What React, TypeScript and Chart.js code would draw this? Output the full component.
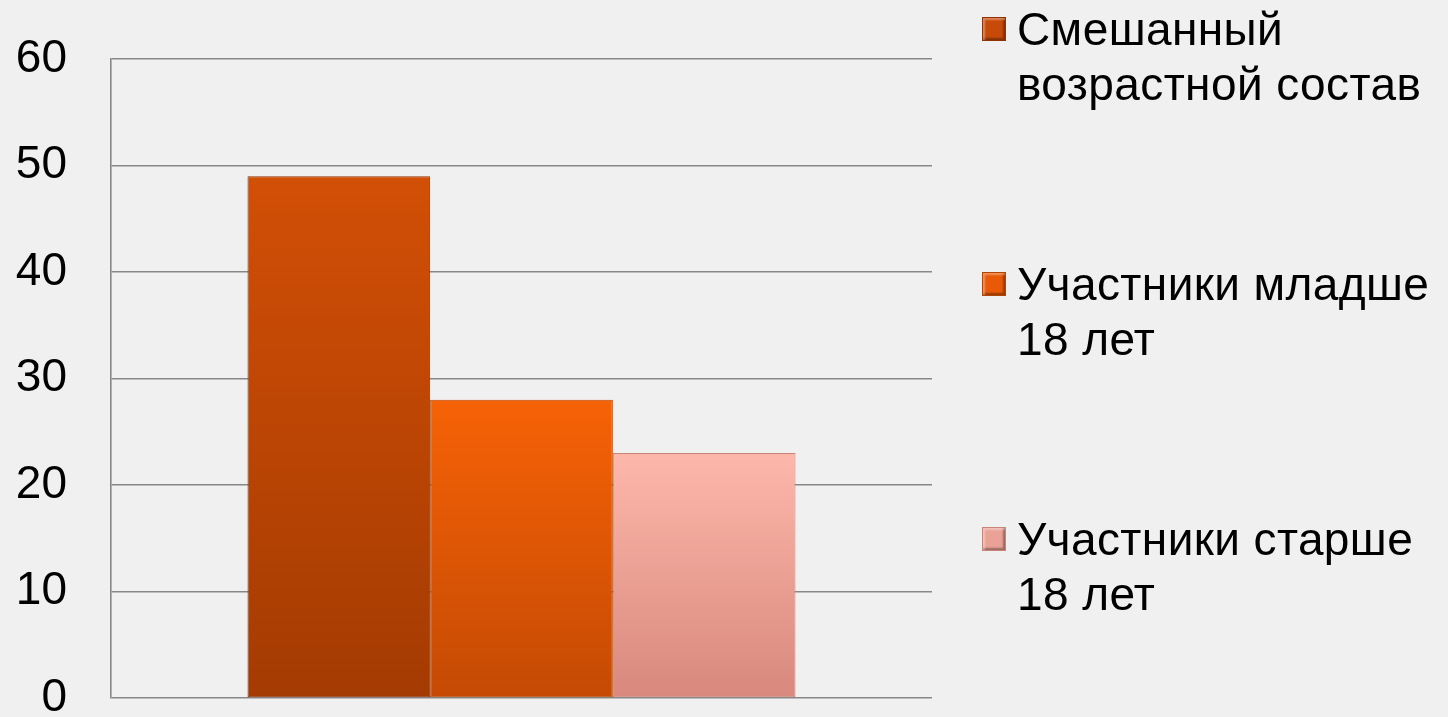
import React, { useEffect, useRef } from 'react';
import { Chart, registerables } from 'chart.js';

Chart.register(...registerables);

const categories = [''];
const seriesNames = [
  'Смешанный\nвозрастной состав',
  'Участники младше\n18 лет',
  'Участники старше\n18 лет',
];
const seriesValues = [[49], [28], [23]];
const yTickValues = [0, 10, 20, 30, 40, 50, 60];

const topColors = ['#d24f06', '#f66206', '#fdb8ab'];
const bottomColors = ['#a43b02', '#c54a04', '#d8887c'];
const borderColors = ['#8f3302', '#b54503', '#c98478'];
const markerColors = ['#c84a08', '#e85a08', '#eaa296'];

const FONT = '"Liberation Sans", Arial, sans-serif';
const BG = '#f0f0f0';

export default function App() {
  const canvasRef = useRef<HTMLCanvasElement | null>(null);

  useEffect(() => {
    const canvas = canvasRef.current;
    if (!canvas) return;

    const bgPlugin = {
      id: 'bgFill',
      beforeDraw(chart: any) {
        const c = chart.ctx;
        c.save();
        c.fillStyle = BG;
        c.fillRect(0, 0, chart.width, chart.height);
        c.restore();
      },
    };

    const chart = new Chart(canvas, {
      type: 'bar',
      data: {
        labels: categories,
        datasets: seriesNames.map((name, i) => ({
          label: name.replace('\n', ' '),
          data: seriesValues[i],
          backgroundColor: (ctx: any) => {
            const ch = ctx.chart;
            const area = ch.chartArea;
            const ys = ch.scales && ch.scales.y;
            if (!area || !ys || typeof ctx.raw !== 'number') return topColors[i];
            const top = ys.getPixelForValue(ctx.raw);
            const g = ch.ctx.createLinearGradient(0, top, 0, area.bottom);
            g.addColorStop(0, topColors[i]);
            g.addColorStop(1, bottomColors[i]);
            return g;
          },
          borderColor: borderColors[i],
          borderWidth: 1,
          borderSkipped: false,
          barPercentage: 1,
          categoryPercentage: 0.6675,
        })),
      },
      options: {
        animation: false,
        responsive: false,
        maintainAspectRatio: false,
        devicePixelRatio: 1,
        layout: { padding: { top: 59, right: 516, bottom: 19, left: 0 } },
        plugins: {
          legend: { display: false },
          tooltip: { enabled: false },
          title: { display: false },
        },
        scales: {
          x: { display: false },
          y: {
            min: yTickValues[0],
            max: yTickValues[yTickValues.length - 1],
            afterFit(scale: any) {
              scale.width = 111;
              scale.paddingTop = 0;
              scale.paddingBottom = 0;
            },
            afterBuildTicks(scale: any) {
              scale.ticks = yTickValues.map((v) => ({ value: v }));
            },
            ticks: {
              stepSize: 10,
              padding: 44,
              color: '#000000',
              font: { family: FONT, size: 46, lineHeight: 0.8 },
            },
            grid: {
              color: '#878787',
              lineWidth: 1.6,
              drawTicks: false,
            },
            border: { display: true, color: '#878787', width: 1.6 },
          },
        },
      },
      plugins: [bgPlugin],
    });

    return () => {
      chart.destroy();
    };
  }, []);

  return (
    <div
      style={{
        position: 'fixed',
        left: 0,
        top: 0,
        width: 1448,
        height: 717,
        background: BG,
        overflow: 'hidden',
      }}
    >
      <canvas
        ref={canvasRef}
        width={1448}
        height={717}
        style={{ display: 'block', width: 1448, height: 717 }}
      />
      {seriesNames.map((name, i) => (
        <div
          key={i}
          style={{ position: 'absolute', left: 982, top: 2 + i * 255, width: 466, height: 120 }}
        >
          <span
            style={{
              position: 'absolute',
              left: 0,
              top: 15,
              width: 24,
              height: 24,
              boxSizing: 'border-box',
              background: markerColors[i],
              border: `1px solid ${borderColors[i]}`,
              boxShadow:
                'inset 2px 2px 2px rgba(255,255,255,0.35), inset -2px -2px 2px rgba(0,0,0,0.35)',
            }}
          />
          <div
            style={{
              position: 'absolute',
              left: 35,
              top: 0,
              fontFamily: FONT,
              fontSize: 46,
              lineHeight: '55px',
              whiteSpace: 'pre',
              color: '#000000',
              letterSpacing: '0.4px',
            }}
          >
            {name}
          </div>
        </div>
      ))}
    </div>
  );
}
